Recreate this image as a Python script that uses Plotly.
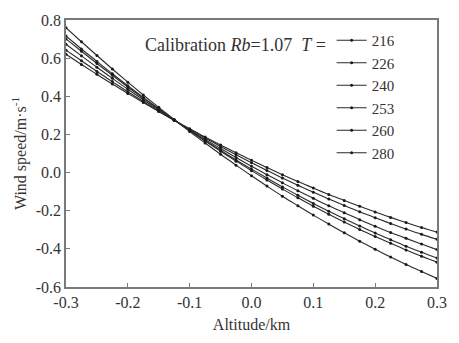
import plotly.graph_objects as go

altitude = [-0.3, -0.275, -0.25, -0.225, -0.2, -0.175, -0.15, -0.125, -0.1, -0.075,
            -0.05, -0.025, 0.0, 0.025, 0.05, 0.075, 0.1, 0.125, 0.15, 0.175,
            0.2, 0.225, 0.25, 0.275, 0.3]

temps = ["216", "226", "240", "253", "260", "280"]

wind_216 = [0.620, 0.567, 0.515, 0.464, 0.415, 0.367, 0.320, 0.274, 0.230, 0.186,
            0.144, 0.104, 0.064, 0.026, -0.011, -0.047, -0.081, -0.115, -0.146, -0.177,
            -0.207, -0.235, -0.262, -0.288, -0.312]
wind_226 = [0.642, 0.586, 0.530, 0.477, 0.424, 0.373, 0.323, 0.275, 0.227, 0.181,
            0.137, 0.094, 0.052, 0.011, -0.029, -0.067, -0.103, -0.139, -0.173, -0.206,
            -0.237, -0.267, -0.296, -0.324, -0.350]
wind_240 = [0.673, 0.612, 0.552, 0.494, 0.437, 0.382, 0.328, 0.275, 0.224, 0.174,
            0.126, 0.079, 0.033, -0.011, -0.054, -0.095, -0.135, -0.174, -0.211, -0.247,
            -0.281, -0.314, -0.345, -0.375, -0.404]
wind_253 = [0.701, 0.636, 0.572, 0.510, 0.449, 0.390, 0.332, 0.276, 0.221, 0.168,
            0.117, 0.066, 0.018, -0.029, -0.075, -0.119, -0.162, -0.203, -0.242, -0.280,
            -0.317, -0.352, -0.386, -0.418, -0.448]
wind_260 = [0.716, 0.648, 0.583, 0.518, 0.455, 0.394, 0.335, 0.276, 0.220, 0.165,
            0.112, 0.060, 0.010, -0.039, -0.086, -0.132, -0.176, -0.218, -0.259, -0.298,
            -0.335, -0.371, -0.406, -0.439, -0.470]
wind_280 = [0.760, 0.686, 0.614, 0.543, 0.474, 0.407, 0.342, 0.278, 0.215, 0.155,
            0.096, 0.039, -0.017, -0.071, -0.124, -0.174, -0.223, -0.270, -0.316, -0.360,
            -0.402, -0.443, -0.482, -0.519, -0.555]

series = [wind_216, wind_226, wind_240, wind_253, wind_260, wind_280]

x_tickvals = [-0.3, -0.2, -0.1, 0.0, 0.1, 0.2, 0.3]
x_ticktext = ["-0.3", "-0.2", "-0.1", "0.0", "0.1", "0.2", "0.3"]
y_tickvals = [-0.6, -0.4, -0.2, 0.0, 0.2, 0.4, 0.6, 0.8]
y_ticktext = ["-0.6", "-0.4", "-0.2", "0.0", "0.2", "0.4", "0.6", "0.8"]

FONT = "Liberation Serif"
AX = "#7a7a7a"
TXT = "#333"

fig = go.Figure()
for name, vals in zip(temps, series):
    fig.add_trace(go.Scatter(
        x=altitude, y=vals, name=name, mode="lines+markers",
        line=dict(color="#2a2a2a", width=1.1, shape="spline"),
        marker=dict(size=3, color="#1a1a1a"),
    ))

axis_common = dict(
    showline=True, linecolor=AX, linewidth=1.5, mirror=True,
    ticks="inside", ticklen=4, tickcolor=AX, tickwidth=1.2,
    showgrid=False, zeroline=False,
    tickfont=dict(family=FONT, size=16, color=TXT),
)

fig.update_layout(
    width=459, height=343,
    margin=dict(l=66, r=13, t=15, b=46),
    paper_bgcolor="white", plot_bgcolor="white",
    font=dict(family=FONT, color=TXT),
    xaxis=dict(range=[-0.3, 0.3], tickvals=x_tickvals, ticktext=x_ticktext,
               title=dict(text="Altitude/km", font=dict(family=FONT, size=16, color=TXT), standoff=9),
               **axis_common),
    yaxis=dict(range=[-0.6, 0.8], tickvals=y_tickvals, ticktext=y_ticktext,
               title=dict(text="Wind speed/m·s<sup>-1</sup>", font=dict(family=FONT, size=16, color=TXT), standoff=5),
               **axis_common),
    legend=dict(x=0.716, y=0.985, xanchor="left", yanchor="top",
                bgcolor="rgba(0,0,0,0)", borderwidth=0,
                font=dict(family=FONT, size=15, color=TXT),
                tracegroupgap=0, itemwidth=30),
    showlegend=True,
)

fig.add_annotation(
    xref="paper", yref="paper", x=0.705, y=0.907, xanchor="right", yanchor="middle",
    text="Calibration <i>Rb</i>=1.07  <i>T</i> =", showarrow=False,
    font=dict(family=FONT, size=18, color=TXT),
)

fig.write_html("out.html")
